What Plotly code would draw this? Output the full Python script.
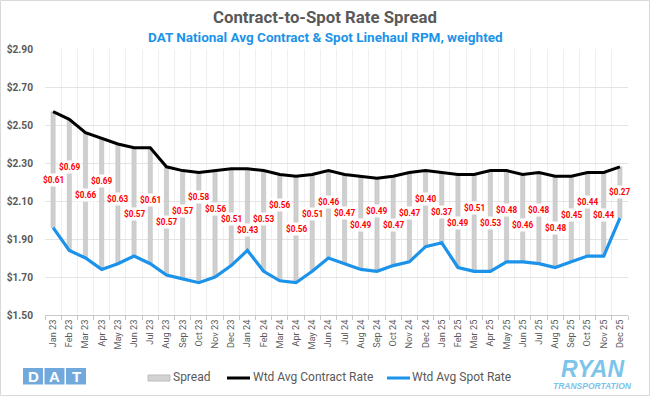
import plotly.graph_objects as go

months = ["Jan 23", "Feb 23", "Mar 23", "Apr 23", "May 23", "Jun 23", "Jul 23", "Aug 23", "Sep 23", "Oct 23", "Nov 23", "Dec 23",
          "Jan 24", "Feb 24", "Mar 24", "Apr 24", "May 24", "Jun 24", "Jul 24", "Aug 24", "Sep 24", "Oct 24", "Nov 24", "Dec 24",
          "Jan 25", "Feb 25", "Mar 25", "Apr 25", "May 25", "Jun 25", "Jul 25", "Aug 25", "Sep 25", "Oct 25", "Nov 25", "Dec 25"]

contract_rate = [2.57, 2.53, 2.46, 2.43, 2.40, 2.38, 2.38, 2.28, 2.26, 2.25, 2.26, 2.27,
                 2.27, 2.26, 2.24, 2.23, 2.24, 2.26, 2.24, 2.23, 2.22, 2.23, 2.25, 2.26,
                 2.25, 2.24, 2.24, 2.26, 2.26, 2.24, 2.25, 2.23, 2.23, 2.25, 2.25, 2.28]

spot_rate = [1.96, 1.84, 1.80, 1.74, 1.77, 1.81, 1.77, 1.71, 1.69, 1.67, 1.70, 1.76,
             1.84, 1.73, 1.68, 1.67, 1.73, 1.80, 1.77, 1.74, 1.73, 1.76, 1.78, 1.86,
             1.88, 1.75, 1.73, 1.73, 1.78, 1.78, 1.77, 1.75, 1.78, 1.81, 1.81, 2.01]

spread_labels = [0.61, 0.69, 0.66, 0.69, 0.63, 0.57, 0.61, 0.57, 0.57, 0.58, 0.56, 0.51,
                 0.43, 0.53, 0.56, 0.56, 0.51, 0.46, 0.47, 0.49, 0.49, 0.47, 0.47, 0.40,
                 0.37, 0.49, 0.51, 0.53, 0.48, 0.46, 0.48, 0.48, 0.45, 0.44, 0.44, 0.27]

# vertical placement of the spread labels (annotation layout, in $ units)
label_pos = [2.21, 2.28, 2.13, 2.205, 2.11, 2.03, 2.105, 1.99, 2.045, 2.12, 2.06, 2.005,
             1.945, 2.005, 2.08, 1.955, 2.03, 2.095, 2.035, 1.975, 2.05, 1.975, 2.035, 2.11,
             2.04, 1.985, 2.065, 1.985, 2.055, 1.975, 2.055, 1.96, 2.025, 2.095, 2.025, 2.145]

y_ticks = [1.50, 1.70, 1.90, 2.10, 2.30, 2.50, 2.70, 2.90]

FONT = "Roboto, Liberation Sans, sans-serif"
GRAY = "#595959"
BLUE = "#1c93ea"

W, H = 650, 396
ML, MR, MT, MB = 45, 22, 49, 81
PW, PH = W - ML - MR, H - MT - MB


def px(x):
    return (x - ML) / PW


def py(y):
    return (H - MB - y) / PH


fig = go.Figure()
fig.add_trace(go.Bar(
    x=months, y=[c - s for c, s in zip(contract_rate, spot_rate)], base=spot_rate,
    width=0.26, marker=dict(color="#cfcfcf", line=dict(color="#bcbcbc", width=0.5)),
    name="Spread", showlegend=False, hoverinfo="skip"))
fig.add_trace(go.Scatter(
    x=months, y=contract_rate, mode="lines", line=dict(color="#000000", width=3),
    name="Wtd Avg Contract Rate", showlegend=False))
fig.add_trace(go.Scatter(
    x=months, y=spot_rate, mode="lines", line=dict(color=BLUE, width=3.2),
    name="Wtd Avg Spot Rate", showlegend=False))

annotations = []
for m, s, ly in zip(months, spread_labels, label_pos):
    annotations.append(dict(
        x=m, y=ly, xref="x", yref="y", text=f"<b>${s:.2f}</b>", showarrow=False,
        font=dict(family=FONT, size=8.2, color="#ff0000"), bgcolor="#ffffff",
        borderpad=1, xanchor="center", yanchor="middle"))

# titles
annotations.append(dict(x=px(325), xref="paper", xanchor="center", y=py(17), yref="paper", yanchor="middle",
                        text="<b>Contract-to-Spot Rate Spread</b>", showarrow=False,
                        font=dict(family=FONT, size=16.8, color=GRAY)))
annotations.append(dict(x=px(325), xref="paper", xanchor="center", y=py(37), yref="paper", yanchor="middle",
                        text="<b>DAT National Avg Contract & Spot Linehaul RPM, weighted</b>", showarrow=False,
                        font=dict(family=FONT, size=13.5, color=BLUE)))

# custom legend
shapes = []
shapes.append(dict(type="rect", xref="paper", yref="paper", x0=px(148), x1=px(170), y0=py(375), y1=py(381),
                   fillcolor="#d3d3d3", line=dict(color="#bdbdbd", width=1)))
shapes.append(dict(type="line", xref="paper", yref="paper", x0=px(227), x1=px(250), y0=py(378), y1=py(378),
                   line=dict(color="#000000", width=3)))
shapes.append(dict(type="line", xref="paper", yref="paper", x0=px(387), x1=px(410), y0=py(378), y1=py(378),
                   line=dict(color=BLUE, width=3)))
for xx, t in [(171, "Spread"), (251, "Wtd Avg Contract Rate"), (410, "Wtd Avg Spot Rate")]:
    annotations.append(dict(x=px(xx), xref="paper", xanchor="left", y=py(377.5), yref="paper", yanchor="middle",
                            text=t, showarrow=False, font=dict(family=FONT, size=12, color=GRAY)))

# DAT logo
DAT_BLUE = "#72a9dd"
for x0, letter in [(23, "D"), (44.5, "A"), (66, "T")]:
    shapes.append(dict(type="rect", xref="paper", yref="paper", x0=px(x0), x1=px(x0 + 20), y0=py(384.5), y1=py(368),
                       fillcolor=DAT_BLUE, line=dict(width=0)))
    annotations.append(dict(x=px(x0 + 10), xref="paper", xanchor="center", y=py(376.5), yref="paper", yanchor="middle",
                            text=f"<b>{letter}</b>", showarrow=False,
                            font=dict(family="Liberation Sans, Arial, sans-serif", size=15, color="#ffffff")))

# RYAN logo
RYAN_BLUE = "#7cc4ea"
annotations.append(dict(x=px(592), xref="paper", xanchor="center", y=py(368.5), yref="paper", yanchor="middle",
                        text="<b><i>RYAN</i></b>", showarrow=False,
                        font=dict(family="Liberation Sans, Arial, sans-serif", size=23, color=RYAN_BLUE)))
annotations.append(dict(x=px(592), xref="paper", xanchor="center", y=py(385.5), yref="paper", yanchor="middle",
                        text="<b><i>TRANSPORTATION</i></b>", showarrow=False,
                        font=dict(family="Liberation Sans, Arial, sans-serif", size=8.5, color=RYAN_BLUE)))

# figure border
shapes.append(dict(type="rect", xref="paper", yref="paper", x0=px(0.5), x1=px(649.5), y0=py(0.5), y1=py(395.5),
                   line=dict(color="#d9d9d9", width=1), fillcolor="rgba(0,0,0,0)", layer="below"))

fig.update_layout(
    width=W, height=H, margin=dict(l=ML, r=MR, t=MT, b=MB, autoexpand=False),
    paper_bgcolor="#ffffff", plot_bgcolor="#ffffff",
    showlegend=False, bargap=0.7,
    annotations=annotations, shapes=shapes,
    font=dict(family=FONT, color=GRAY),
)
fig.update_xaxes(
    type="category", tickson="boundaries", tickangle=-90, range=[-0.5, 35.5], automargin=False,
    showgrid=True, gridcolor="#efefef", gridwidth=1,
    showline=True, linecolor="#c8c8c8", linewidth=1,
    ticks="outside", ticklen=4, tickcolor="#c8c8c8",
    tickfont=dict(family=FONT, size=9.2, color=GRAY),
)
fig.update_yaxes(
    range=[1.50, 2.90], tickvals=y_ticks, ticktext=[f"<b>${v:.2f}</b>" for v in y_ticks], automargin=False,
    showgrid=True, gridcolor="#e4e4e4", gridwidth=1, zeroline=False, showline=False,
    tickfont=dict(family=FONT, size=10.2, color=GRAY), ticks="", ticklabelstandoff=11,
)

fig.write_html("out.html", config={"displayModeBar": False},
               post_script="document.body.style.margin='0px';document.body.style.padding='0px';")
